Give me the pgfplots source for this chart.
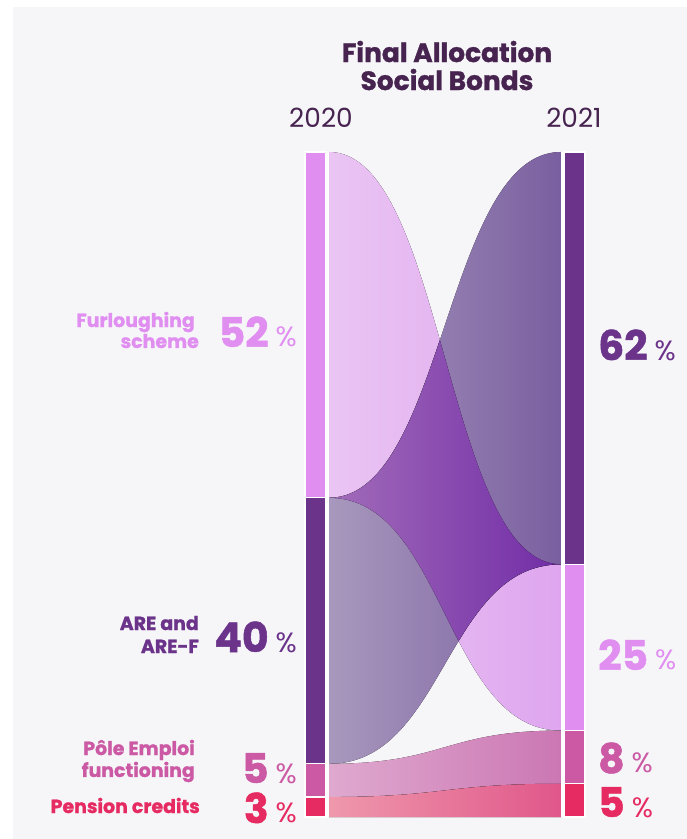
\documentclass[border=0pt]{standalone}
\usepackage{pgfplots}
\pgfplotsset{compat=1.18}
\usepackage{fontspec}
\setmainfont{Poppins}[BoldFeatures={FakeBold=1.2}]
\definecolor{bg}{HTML}{F6F6F9}
\definecolor{ink}{HTML}{47234F}
\definecolor{furl}{HTML}{E18EF1}
\definecolor{are}{HTML}{6B338A}
\definecolor{pole}{HTML}{CB59A4}
\definecolor{pens}{HTML}{E62B62}
\definecolor{furlL}{HTML}{EAC5F3}
\definecolor{furlR}{HTML}{DFA6EF}
\definecolor{areL}{HTML}{A898BD}
\definecolor{areR}{HTML}{7A5FA0}
\definecolor{ovL}{HTML}{A26CBA}
\definecolor{ovR}{HTML}{712CA6}
\definecolor{poleL}{HTML}{DFA9CF}
\definecolor{poleR}{HTML}{CB77B3}
\definecolor{pensL}{HTML}{EF98AC}
\definecolor{pensR}{HTML}{E0578A}
\newcommand{\numf}{\fontsize{41}{41}\selectfont\bfseries}
\newcommand{\pctf}{\fontsize{28}{28}\selectfont\mdseries}
\newcommand{\labf}{\fontsize{19}{22}\selectfont\bfseries}
\newcommand{\furlpath}{(axis cs:329,100) .. controls (axis cs:445,100) and (axis cs:445,38) .. (axis cs:561,38)
  -- (axis cs:561,13) .. controls (axis cs:445,13) and (axis cs:445,48) .. (axis cs:329,48) -- cycle}
\newcommand{\arepath}{(axis cs:329,48) .. controls (axis cs:445,48) and (axis cs:445,100) .. (axis cs:561,100)
  -- (axis cs:561,38) .. controls (axis cs:445,38) and (axis cs:445,8) .. (axis cs:329,8) -- cycle}
\begin{document}
\begin{tikzpicture}
\begin{axis}[x=1bp, y=6.65bp, xmin=0, xmax=687, ymin=-3.308, ymax=122.857,
  hide axis, clip=false, scale only axis]
% background
\fill[white] (axis cs:0,-3.308) rectangle (axis cs:687,122.857);
\fill[bg] (axis cs:13,-3.308) rectangle (axis cs:687,121.805);
% flows (2020 -> 2021), shares in percent
\fill[left color=furlL, right color=furlR] \furlpath;
\fill[left color=areL, right color=areR] \arepath;
\begin{scope}
\clip \furlpath;
\fill[left color=ovL, right color=ovR] \arepath;
\end{scope}
\fill[left color=poleL, right color=poleR]
  (axis cs:329,8) .. controls (axis cs:445,8) and (axis cs:445,13) .. (axis cs:561,13)
  -- (axis cs:561,5) .. controls (axis cs:445,5) and (axis cs:445,3) .. (axis cs:329,3) -- cycle;
\fill[left color=pensL, right color=pensR]
  (axis cs:329,3) .. controls (axis cs:445,3) and (axis cs:445,5) .. (axis cs:561,5)
  -- (axis cs:561,0) .. controls (axis cs:445,0) and (axis cs:445,0) .. (axis cs:329,0) -- cycle;
\fill[white] (axis cs:326,0) rectangle (axis cs:329,100);
\fill[white] (axis cs:561,0) rectangle (axis cs:564,100);
% 2020 bar: 52 / 40 / 5 / 3
\addplot[fill=pens, draw=white, line width=1.2bp] coordinates {(305,0) (326,0) (326,3) (305,3)} -- cycle;
\addplot[fill=pole, draw=white, line width=1.2bp] coordinates {(305,3) (326,3) (326,8) (305,8)} -- cycle;
\addplot[fill=are,  draw=white, line width=1.2bp] coordinates {(305,8) (326,8) (326,48) (305,48)} -- cycle;
\addplot[fill=furl, draw=white, line width=1.2bp] coordinates {(305,48) (326,48) (326,100) (305,100)} -- cycle;
% 2021 bar: 62 / 25 / 8 / 5
\addplot[fill=pens, draw=white, line width=1.2bp] coordinates {(564,0) (585,0) (585,5) (564,5)} -- cycle;
\addplot[fill=pole, draw=white, line width=1.2bp] coordinates {(564,5) (585,5) (585,13) (564,13)} -- cycle;
\addplot[fill=furl, draw=white, line width=1.2bp] coordinates {(564,13) (585,13) (585,38) (564,38)} -- cycle;
\addplot[fill=are,  draw=white, line width=1.2bp] coordinates {(564,38) (585,38) (585,100) (564,100)} -- cycle;
% title and years
\node[anchor=base, inner sep=0, text=ink, font=\fontsize{26.5}{26.5}\selectfont\bfseries] at (axis cs:447,113.53) {Final Allocation};
\node[anchor=base, inner sep=0, text=ink, font=\fontsize{26.5}{26.5}\selectfont\bfseries] at (axis cs:447,109.32) {Social Bonds};
\node[anchor=base, inner sep=0, text=ink, font=\fontsize{26.5}{26.5}\selectfont] at (axis cs:321,103.61) {2020};
\node[anchor=base, inner sep=0, text=ink, font=\fontsize{26.5}{26.5}\selectfont] at (axis cs:574,103.61) {2021};
% left labels
\node[anchor=base east, inner sep=0, text=furl, font=\labf] at (axis cs:195,73.68) {Furloughing};
\node[anchor=base east, inner sep=0, text=furl, font=\labf] at (axis cs:199,70.53) {scheme};
\node[anchor=base east, inner sep=0, text=are, font=\labf] at (axis cs:199,28.12) {ARE and};
\node[anchor=base east, inner sep=0, text=are, font=\labf] at (axis cs:199,24.66) {ARE-F};
\node[anchor=base east, inner sep=0, text=pole, font=\labf] at (axis cs:195,9.32) {Pôle Emploi};
\node[anchor=base east, inner sep=0, text=pole, font=\labf] at (axis cs:195,6.02) {functioning};
\node[anchor=base east, inner sep=0, text=pens, font=\labf] at (axis cs:200,0.60) {Pension credits};
% left numbers
\node[anchor=base east, inner sep=0, text=furl] at (axis cs:297,70.68) {\numf 52\hspace{7bp}\pctf\%};
\node[anchor=base east, inner sep=0, text=are] at (axis cs:297,24.81) {\numf 40\hspace{7bp}\pctf\%};
\node[anchor=base east, inner sep=0, text=pole] at (axis cs:297,5.11) {\numf 5\hspace{7bp}\pctf\%};
\node[anchor=base east, inner sep=0, text=pens] at (axis cs:297,-0.90) {\numf 3\hspace{7bp}\pctf\%};
% right numbers
\node[anchor=base west, inner sep=0, text=are] at (axis cs:598,68.72) {\numf 62\hspace{7bp}\pctf\%};
\node[anchor=base west, inner sep=0, text=furl] at (axis cs:598,22.11) {\numf 25\hspace{7bp}\pctf\%};
\node[anchor=base west, inner sep=0, text=pole] at (axis cs:598,6.62) {\numf 8\hspace{7bp}\pctf\%};
\node[anchor=base west, inner sep=0, text=pens] at (axis cs:598,0) {\numf 5\hspace{7bp}\pctf\%};
\end{axis}
\end{tikzpicture}
\end{document}
